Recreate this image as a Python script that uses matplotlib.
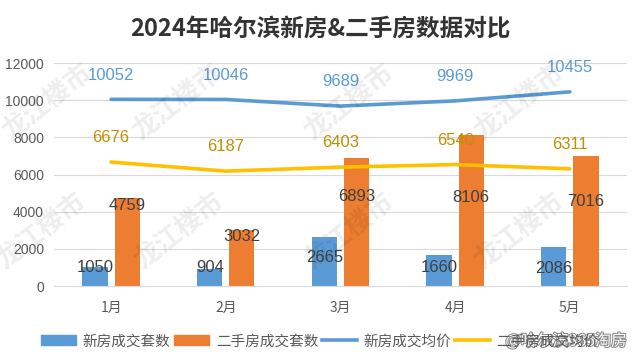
import numpy as np
import matplotlib.pyplot as plt
import matplotlib.patheffects as pe
from matplotlib.patches import Patch
from matplotlib.lines import Line2D

plt.rcParams['font.family'] = ['Noto Sans CJK SC', 'DejaVu Sans']

# data
months = ["1月", "2月", "3月", "4月", "5月"]
new_count = [1050, 904, 2665, 1660, 2086]
second_count = [4759, 3032, 6893, 8106, 7016]
new_price = [10052, 10046, 9689, 9969, 10455]
second_price = [6676, 6187, 6403, 6540, 6311]
legend_labels = ["新房成交套数", "二手房成交套数", "新房成交均价", "二手房成交均价"]

# label offsets from bar top (points), labels were nudged by hand in the original
new_off = [-1, 1, -15, -9, -15]
second_off = [-6, -5, -28, -45, -33]

blue = "#5B9BD5"
orange = "#ED7D31"
yellow = "#FFC000"
num_font = "Liberation Sans"

fig = plt.figure(figsize=(6.4, 3.63), dpi=100)
ax = fig.add_axes([0.084, 0.212, 0.896, 0.614])

x = np.arange(len(months))
w = 0.22

ax.bar(x - 0.14, new_count, w, color=blue, zorder=2)
ax.bar(x + 0.14, second_count, w, color=orange, zorder=2)
ax.plot(x, new_price, color=blue, lw=2.6, zorder=3, solid_capstyle="round")
ax.plot(x, second_price, color=yellow, lw=2.6, zorder=3, solid_capstyle="round")

# data labels
for i in range(len(months)):
    ax.annotate(str(new_count[i]), (x[i] - 0.14, new_count[i]), xytext=(0, new_off[i]),
                textcoords="offset points", ha="center", va="center",
                fontsize=12, color="#404040", family=num_font, zorder=4)
    ax.annotate(str(second_count[i]), (x[i] + 0.14, second_count[i]), xytext=(0, second_off[i]),
                textcoords="offset points", ha="center", va="center",
                fontsize=12, color="#404040", family=num_font, zorder=4)
    ax.annotate(str(new_price[i]), (x[i], new_price[i]), xytext=(0, 17.5),
                textcoords="offset points", ha="center", va="center",
                fontsize=12, color=blue, family=num_font, zorder=4)
    ax.annotate(str(second_price[i]), (x[i], second_price[i]), xytext=(0, 17.5),
                textcoords="offset points", ha="center", va="center",
                fontsize=12, color="#BF9000", family=num_font, zorder=4)

ax.set_xlim(-0.5, len(months) - 0.5)
ax.set_ylim(0, 12000)
ax.set_yticks(range(0, 12001, 2000))
ax.set_xticks(x)
ax.set_xticklabels(months)
ax.tick_params(axis="y", length=0, labelsize=10, colors="#595959", pad=7)
ax.tick_params(axis="x", length=0, labelsize=10, colors="#595959", pad=11)
for lab in ax.get_yticklabels():
    lab.set_family(num_font)
ax.grid(axis="y", color="#D9D9D9", lw=0.8, zorder=0)
for s in ["top", "right", "left"]:
    ax.spines[s].set_visible(False)
ax.spines["bottom"].set_color("#D9D9D9")

fig.text(0.5, 0.92, "2024年哈尔滨新房&二手房数据对比", ha="center", va="center",
         fontsize=17, fontweight="bold", color="#333333")

# watermarks
for (wx, wy) in [(48, 103), (178, 103), (350, 103), (520, 103),
                 (42, 232), (180, 232), (350, 232), (520, 232)]:
    fig.text(wx / 640, 1 - wy / 363, "龙江楼市", fontsize=19, fontweight="bold",
             color="#000000", alpha=0.07, rotation=38, ha="center", va="center")

handles = [Patch(color=blue), Patch(color=orange),
           Line2D([], [], color=blue, lw=2.6), Line2D([], [], color=yellow, lw=2.6)]
fig.legend(handles, legend_labels, loc="center", bbox_to_anchor=(0.5, 0.06), ncol=4,
           frameon=False, fontsize=10.5, handlelength=2.4, handletextpad=0.45,
           columnspacing=0.25, labelcolor="#595959")

fig.text(0.98, 0.06, "@哈尔滨365淘房", ha="right", va="center", fontsize=11.5,
         color="white", path_effects=[pe.withStroke(linewidth=1.5, foreground="#8a8a8a")])

fig.savefig("out.png", dpi=100, facecolor="white")
